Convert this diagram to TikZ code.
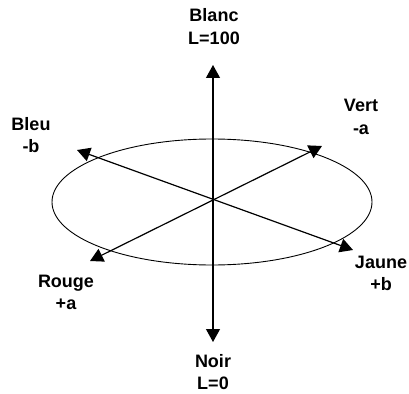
\documentclass[tikz,border=0pt]{standalone}
\usepackage{fontspec}
\setmainfont{Liberation Sans}
\usetikzlibrary{arrows.meta}

\begin{document}
\begin{tikzpicture}[x=1pt, y=-1pt,
  lbl/.style={font=\fontsize{18}{22.5}\selectfont\bfseries, align=center,
              inner sep=0pt, anchor=base},
  axe/.style={{Triangle[length=13pt,width=14pt]}-{Triangle[length=13pt,width=14pt]},
              line width=1.2pt}]
  \useasboundingbox (0,0) rectangle (409,393);
  % plan a*b
  \draw[line width=0.9pt] (212,202) ellipse [x radius=160, y radius=63];
  \coordinate (blanc) at (213,65);
  \coordinate (noir)  at (213,342);
  \coordinate (bleu)  at (77,150);
  \coordinate (jaune) at (353,250);
  \coordinate (vert)  at (322,146);
  \coordinate (rouge) at (90,261);
  \draw[axe] (blanc) -- (noir);
  \draw[axe] (bleu) -- (jaune);
  \draw[axe] (vert) -- (rouge);
  % libelles (base = derniere ligne)
  \node[lbl] (lblanc) at (214,44.5)  {Blanc\\L=100};
  \node[lbl] (lnoir)  at (213,389.5) {Noir\\L=0};
  \node[lbl] (lbleu)  at (31,152.5)  {Bleu\\-b};
  \node[lbl] (lvert)  at (361,134.5) {Vert\\-a};
  \node[lbl] (lrouge) at (66,309.5)  {Rouge\\+a};
  \node[lbl] (ljaune) at (381,290.5) {Jaune\\+b};
\end{tikzpicture}
\end{document}
